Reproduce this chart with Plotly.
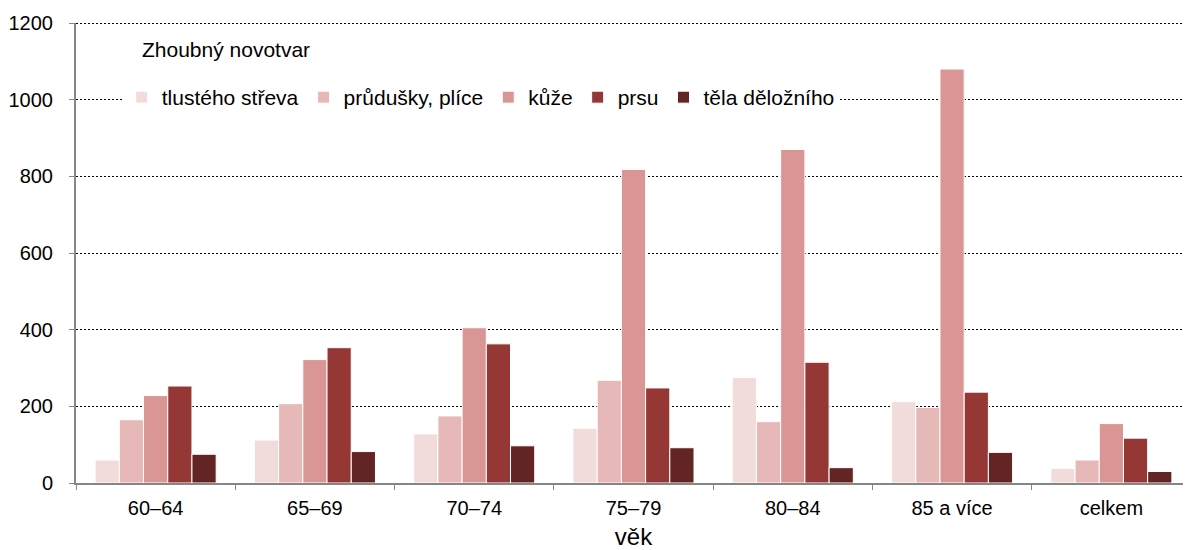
import plotly.graph_objects as go

categories = ["60–64", "65–69", "70–74", "75–79", "80–84", "85 a více", "celkem"]
series_names = ["tlustého střeva", "průdušky, plíce", "kůže", "prsu", "těla děložního"]
tlusteho_streva = [60, 112, 128, 143, 275, 212, 38]
prudusky_plice = [165, 207, 175, 268, 160, 197, 60]
kuze = [228, 322, 405, 818, 870, 1080, 155]
prsu = [253, 353, 363, 248, 315, 237, 117]
tela_delozniho = [75, 82, 97, 92, 40, 80, 30]
y_ticks = [0, 200, 400, 600, 800, 1000, 1200]

colors = ["#F2DCDB", "#E6B9B8", "#D99694", "#953735", "#632523"]
values = [tlusteho_streva, prudusky_plice, kuze, prsu, tela_delozniho]

fig = go.Figure()
for name, vals, col in zip(series_names, values, colors):
    fig.add_trace(go.Bar(
        x=categories, y=vals, name=name,
        marker=dict(color=col, line=dict(color="white", width=1)),
    ))

font = "Liberation Sans, Arial, sans-serif"
grid_dash = "2px,2px"

# top border line at 1200
fig.add_shape(type="line", xref="paper", yref="y", x0=0, x1=1, y0=1200, y1=1200,
              line=dict(color="black", width=2, dash=grid_dash), layer="above")

fig.add_annotation(text="Zhoubný novotvar", xref="paper", yref="paper",
                   x=0.057, y=0.942, xanchor="left", yanchor="middle",
                   showarrow=False, font=dict(size=21))

# page body adds 8px margin, so the figure is sized a bit under the window
fig.update_layout(
    width=1183, height=542,
    margin=dict(l=68, r=0, t=15, b=67),
    plot_bgcolor="white", paper_bgcolor="white",
    barmode="group", bargap=0.24, bargroupgap=0,
    font=dict(family=font, size=20, color="black"),
    legend=dict(
        orientation="h", x=0.041, y=0.838, xanchor="left", yanchor="middle",
        bgcolor="white", font=dict(size=21), traceorder="normal",
        itemwidth=30, tracegroupgap=0,
    ),
    xaxis=dict(
        type="category", tickson="boundaries", ticks="outside", ticklen=5,
        tickcolor="#868686", showline=True, linecolor="#868686", linewidth=2,
        title=dict(text="věk", standoff=16), automargin=False,
        ticklabelstandoff=6,
    ),
    yaxis=dict(
        range=[0, 1200], tickvals=y_ticks, ticks="outside", ticklen=5,
        tickcolor="#868686", showline=True, linecolor="#868686", linewidth=2,
        showgrid=True, gridcolor="black", griddash=grid_dash, gridwidth=1,
        zeroline=False, automargin=False, ticklabelstandoff=12,
    ),
)
fig.write_html("out.html")
